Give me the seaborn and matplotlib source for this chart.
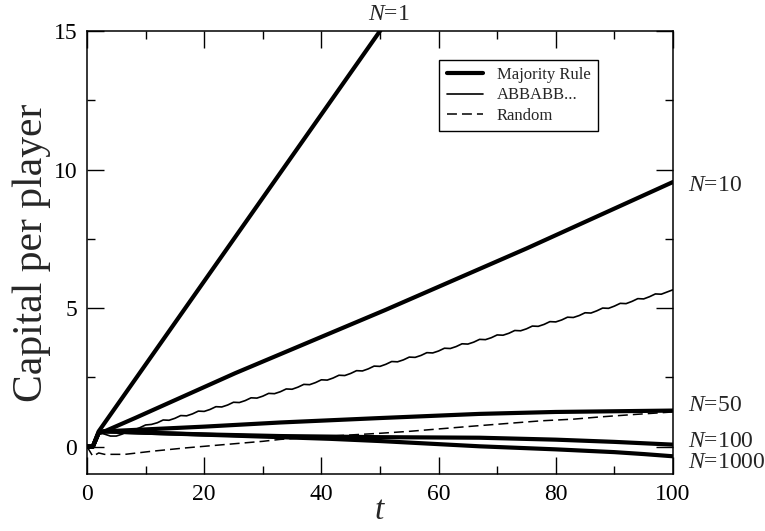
import numpy as np
import pandas as pd
import matplotlib
matplotlib.use("Agg")
import matplotlib.pyplot as plt
import seaborn as sns
from matplotlib.ticker import MultipleLocator

# majority rule, one curve per N
t_n1 = [0, 1, 2, 50, 100]
cap_n1 = [0.0, 0.0, 0.55, 15.0, 30.05]

t_n10 = [0, 1, 2, 3, 8.2, 25.3, 50.9, 75, 100]
cap_n10 = [0.0, 0.0, 0.5, 0.55, 1.03, 2.65, 4.93, 7.15, 9.55]

t_n50 = [0, 1, 2, 3, 10, 20, 33, 50, 67, 80, 100]
cap_n50 = [0.0, 0.0, 0.5, 0.55, 0.62, 0.72, 0.87, 1.03, 1.18, 1.25, 1.30]

t_n100 = [0, 1, 2, 3, 10, 20, 33, 50, 67, 80, 90, 100]
cap_n100 = [0.0, 0.0, 0.5, 0.55, 0.5, 0.44, 0.38, 0.34, 0.32, 0.25, 0.17, 0.07]

t_n1000 = [0, 1, 2, 3, 10, 20, 33, 41.5, 50, 67, 80, 90, 95, 100]
cap_n1000 = [0.0, 0.0, 0.5, 0.55, 0.5, 0.43, 0.34, 0.28, 0.2, 0.01, -0.1, -0.2, -0.27, -0.35]

# periodic ABBABB... sequence, one value per step
t_abb = np.arange(101)
cap_abb = [0.00, 0.00, 0.50, 0.45, 0.38, 0.38, 0.45, 0.55, 0.60, 0.68,
           0.78, 0.80, 0.86, 0.96, 0.95, 1.02, 1.12, 1.11, 1.18, 1.28,
           1.27, 1.34, 1.44, 1.43, 1.50, 1.60, 1.59, 1.66, 1.76, 1.75,
           1.82, 1.92, 1.91, 1.98, 2.08, 2.07, 2.145, 2.245, 2.235, 2.31,
           2.41, 2.40, 2.475, 2.575, 2.565, 2.64, 2.74, 2.73, 2.805, 2.905,
           2.895, 2.97, 3.07, 3.06, 3.13, 3.23, 3.22, 3.29, 3.39, 3.38,
           3.45, 3.55, 3.54, 3.61, 3.71, 3.70, 3.77, 3.87, 3.86, 3.93,
           4.03, 4.02, 4.09, 4.19, 4.18, 4.25, 4.35, 4.34, 4.41, 4.51,
           4.50, 4.57, 4.67, 4.66, 4.73, 4.83, 4.82, 4.90, 5.00, 4.99,
           5.07, 5.17, 5.16, 5.24, 5.34, 5.33, 5.41, 5.51, 5.50, 5.58,
           5.66]

# random sequence
t_rand = [0, 1, 2, 3, 6.5, 11, 16.7, 20, 25, 30, 33, 40, 50, 55, 66, 77.5, 83, 87.5, 93.5, 100]
cap_rand = [0.0, -0.35, -0.23, -0.28, -0.28, -0.17, -0.05, 0.01, 0.1, 0.19,
            0.26, 0.36, 0.48, 0.55, 0.74, 0.93, 0.99, 1.07, 1.16, 1.25]

# label text and where it sits (t, capital)
n_labels = ["1", "10", "50", "100", "1000"]
n_label_pos = [(51.5, 15.2), (102.5, 9.43), (102.5, 1.48), (102.5, 0.17), (102.5, -0.59)]

sns.set_style("ticks")
plt.rcParams["font.family"] = ["Liberation Serif", "DejaVu Serif"]
plt.rcParams["mathtext.fontset"] = "custom"
plt.rcParams["mathtext.it"] = "Liberation Serif:italic"
plt.rcParams["mathtext.rm"] = "Liberation Serif"

fig = plt.figure(figsize=(7.65, 5.31), dpi=100)
ax = fig.add_axes([0.1137, 0.1068, 0.766, 0.8348])

thick = 3.0
sns.lineplot(x=t_n1, y=cap_n1, ax=ax, color="black", lw=thick, label="Majority Rule")
for tt, cc in [(t_n10, cap_n10), (t_n50, cap_n50), (t_n100, cap_n100), (t_n1000, cap_n1000)]:
    sns.lineplot(x=tt, y=cc, ax=ax, color="black", lw=thick, legend=False)
sns.lineplot(x=t_abb, y=cap_abb, ax=ax, color="black", lw=1.2, label="ABBABB...")
sns.lineplot(x=t_rand, y=cap_rand, ax=ax, color="black", lw=1.1,
             linestyle=(0, (6.5, 3.3)), label="Random")

ax.set_xlim(0, 100)
ax.set_ylim(-1, 15)
ax.xaxis.set_major_locator(MultipleLocator(20))
ax.xaxis.set_minor_locator(MultipleLocator(10))
ax.yaxis.set_major_locator(MultipleLocator(5))
ax.yaxis.set_minor_locator(MultipleLocator(2.5))
ax.tick_params(which="both", direction="in", top=True, right=True, width=1.0, colors="black")
ax.tick_params(which="major", length=12, labelsize=17, pad=7)
ax.tick_params(which="minor", length=6)
for sp in ax.spines.values():
    sp.set_linewidth(1.1)
    sp.set_color("black")

ax.set_xlabel("$t$", fontsize=24, labelpad=-7)
ax.set_ylabel("Capital per player", fontsize=30, labelpad=2)

for lab, (x, y) in zip(n_labels, n_label_pos):
    if lab == "1":
        ax.text(x, y, "$N$=" + lab, fontsize=17, ha="center", va="bottom", clip_on=False)
    else:
        ax.text(x, y, "$N$=" + lab, fontsize=17, ha="left", va="center", clip_on=False)

leg = ax.legend(loc="upper right", bbox_to_anchor=(0.872, 0.935), borderaxespad=0,
                fontsize=12, handlelength=2.2, frameon=True, fancybox=False,
                edgecolor="black", framealpha=1, borderpad=0.45, labelspacing=0.25)
leg.get_frame().set_linewidth(1.0)

fig.savefig("out.png", dpi=100)
